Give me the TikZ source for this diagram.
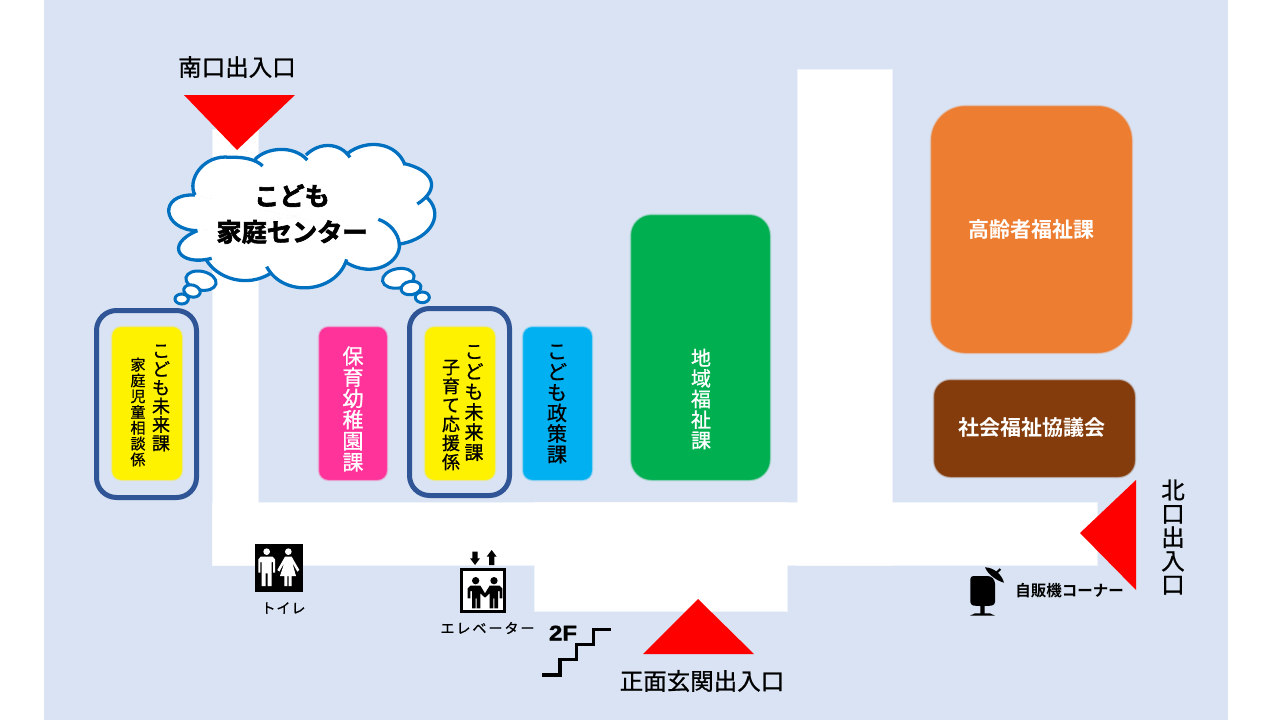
\documentclass[tikz,border=0pt]{standalone}
\usepackage{fontspec}
\newfontfamily\cjk{Noto Sans CJK JP}[FakeBold=0.9]
\newfontfamily\cjkb{Noto Sans CJK JP Bold}
\newfontfamily\cjkh{Noto Sans CJK JP Bold}[FakeBold=2.5]
\newfontfamily\latinb{Liberation Sans Bold}[FakeBold=1.6,FakeStretch=1.15]
\definecolor{floorblue}{HTML}{D9E3F3}
\definecolor{cloudblue}{HTML}{0070C0}
\definecolor{ringblue}{HTML}{2F5597}
\definecolor{pinkbox}{HTML}{FF3399}
\definecolor{cyanbox}{HTML}{00B0F0}
\definecolor{greenbox}{HTML}{00B050}
\definecolor{orangebox}{HTML}{ED7D31}
\definecolor{brownbox}{HTML}{843C0C}
\tikzset{
  lab/.style={inner sep=0pt,outer sep=0pt,align=center,text=black},
  tri/.style={fill=red,draw=none},
  ring/.style={draw=ringblue,line width=5pt,rounded corners=20pt},
  cloudline/.style={draw=cloudblue,line width=3.3pt},
  bubble/.style={draw=cloudblue,line width=3pt,fill=white},
  pic/.style={fill=black,draw=none},
}
% soft-edged rounded box
\newcommand\softbox[6]{% colour, x0,y0,x1,y1, radius
  \foreach \w/\o in {3.6/.16,2.2/.3,1/.5}{
    \draw[#1,fill=#1,opacity=\o,line width=\w pt,rounded corners=#6 pt] (#2,#3) rectangle (#4,#5);}
  \fill[#1,rounded corners=#6 pt] (#2,#3) rectangle (#4,#5);
}
\newcommand\softwhite[4]{%
  \foreach \w/\o in {2.4/.25,1.2/.45}{
    \draw[white,fill=white,opacity=\o,line width=\w pt] (#1,#2) rectangle (#3,#4);}
  \fill[white] (#1,#2) rectangle (#3,#4);
}
\newcommand\cloudlobes{%
  \lobe{(345,195)}{(320,150)}{(370,72)}{(450,82)}
  \lobe{(450,82)}{(495,80)}{(530,90)}{(548,108)}
  \lobe{(525,88)}{(560,52)}{(640,44)}{(682,90)}
  \lobe{(678,75)}{(720,34)}{(780,38)}{(810,82)}
  \lobe{(803,70)}{(860,26)}{(950,36)}{(975,105)}
  \lobe{(970,100)}{(1060,120)}{(1085,175)}{(1012,222)}
  \lobe{(1035,198)}{(1095,245)}{(1060,325)}{(960,342)}
  \lobe{(958,340)}{(965,395)}{(880,450)}{(795,395)}
  \lobe{(800,388)}{(770,490)}{(610,505)}{(560,410)}
  \lobe{(572,430)}{(500,475)}{(410,445)}{(378,388)}
  \lobe{(395,385)}{(300,410)}{(250,345)}{(352,302)}
  \lobe{(352,302)}{(246,300)}{(232,190)}{(345,195)}
}
\begin{document}
\begin{tikzpicture}[x=1pt,y=-1pt]
\useasboundingbox (0,0) rectangle (1280,720);
\fill[white] (0,0) rectangle (1280,720);
\fill[floorblue] (44,0) rectangle (1228,720);
% corridors
\softwhite{213}{130}{258}{565}
\softwhite{213}{503}{1097}{565}
\softwhite{535}{503}{787}{611}
\softwhite{798}{70}{892}{565}
% rooms
\softbox{yellow}{112.5}{327.5}{181.5}{479.5}{9}
\softbox{pinkbox}{319.5}{327.5}{386.5}{479.5}{9}
\softbox{yellow}{425.5}{327.5}{494.5}{479.5}{9}
\softbox{cyanbox}{523.5}{327.5}{591.5}{479.5}{9}
\softbox{greenbox}{631.5}{215.5}{769.5}{479.5}{20}
\softbox{orangebox}{931.5}{106.5}{1131.5}{352.5}{34}
\softbox{brownbox}{934.5}{380.5}{1134.5}{476.5}{16}
% rings
\draw[ring] (96.5,310.5) rectangle (196.5,497.5);
\draw[ring] (409.5,308.5) rectangle (509.5,495.5);
% room labels
\node[lab,font=\cjk\fontsize{18}{18.5}\selectfont] (k1) at (161,398) {こ\\ど\\も\\未\\来\\課};
\node[lab,font=\cjk\fontsize{15}{15.8}\selectfont] (k2) at (138,412) {家\\庭\\児\\童\\相\\談\\係};
\node[lab,text=white,font=\cjk\fontsize{21}{21.2}\selectfont] (h1) at (353,409) {保\\育\\幼\\稚\\園\\課};
\node[lab,font=\cjk\fontsize{19}{20.2}\selectfont] (k3) at (474,403) {こ\\ど\\も\\未\\来\\課};
\node[lab,font=\cjk\fontsize{18}{19}\selectfont] (k4) at (451,415) {子\\育\\て\\応\\援\\係};
\node[lab,font=\cjk\fontsize{20}{20.6}\selectfont] (s1) at (557,404) {こ\\ど\\も\\政\\策\\課};
\node[lab,text=white,font=\cjk\fontsize{20}{20.6}\selectfont] (c1) at (701,399) {地\\域\\福\\祉\\課};
\node[lab,text=white,font=\cjkb\fontsize{21}{24}\selectfont] (r1) at (1031,230) {高齢者福祉課};
\node[lab,text=white,font=\cjkb\fontsize{21}{24}\selectfont] (r2) at (1032,428) {社会福祉協議会};
% entrances
\fill[tri] (184,95) -- (295,95) -- (237,150) -- cycle;
\fill[tri] (698,599) -- (754,654) -- (643,654) -- cycle;
\fill[tri] (1136,480) -- (1136,590) -- (1080,533) -- cycle;
\node[lab,font=\cjk\fontsize{23.5}{26}\selectfont] (e1) at (237,67) {南口出入口};
\node[lab,font=\cjk\fontsize{23.5}{26}\selectfont] (e2) at (702,681) {正面玄関出入口};
\node[lab,font=\cjk\fontsize{23.5}{23.6}\selectfont] (e3) at (1173,537) {北\\口\\出\\入\\口};
% cloud (coordinates are 3x zoom of the region from (80,130))
\begin{scope}[shift={(80,130)},x=.33333pt,y=-.33333pt]
  \newcommand\lobe[4]{\fill[white] (640,260) -- #1 .. controls #2 and #3 .. #4 -- cycle;}
  \cloudlobes
  \renewcommand\lobe[4]{\draw[cloudline] #1 .. controls #2 and #3 .. #4;}
  \cloudlobes
  \draw[cloudline] (895,268) .. controls (930,280) and (955,310) .. (958,342);
  \draw[bubble,rotate around={-12:(363,452)}] (363,452) ellipse [x radius=46,y radius=28];
  \draw[bubble,rotate around={-15:(336,483)}] (336,483) ellipse [x radius=25,y radius=18];
  \draw[bubble] (305,507) ellipse [x radius=20,y radius=15];
  \draw[bubble,rotate around={10:(955,445)}] (955,445) ellipse [x radius=48,y radius=29];
  \draw[bubble,rotate around={10:(993,474)}] (993,474) ellipse [x radius=30,y radius=20];
  \draw[bubble] (1027,502) ellipse [x radius=21,y radius=16];
\end{scope}
\node[lab,font=\cjkh\fontsize{25.2}{36}\selectfont] (cl) at (292,214) {こども\\家庭センター};
% toilet sign
\begin{scope}[shift={(250,540)},x=.33333pt,y=-.33333pt]
  \fill[pic] (15,12) rectangle (159,156);
  \fill[white] (50,35) circle [x radius=10,y radius=10] (115,35) circle [x radius=10,y radius=10];
  \fill[white] (25,98) -- (25,58) -- (32,50) -- (68,50) -- (75,58) -- (75,98) -- (69,98) -- (69,66) -- (65,66) -- (65,138) -- (53,138) -- (53,100) -- (47,100) -- (47,138) -- (35,138) -- (35,66) -- (31,66) -- (31,98) -- cycle;
  \fill[white] (105,50) -- (125,50) -- (148,90) -- (142,95) -- (127,68) -- (138,108) -- (125,108) -- (125,138) -- (116,138) -- (116,108) -- (112,108) -- (112,138) -- (103,138) -- (103,108) -- (90,108) -- (103,68) -- (88,95) -- (82,90) -- cycle;
\end{scope}
% elevator sign
\begin{scope}[shift={(455,545)},x=.33333pt,y=-.33333pt]
  \fill[pic] (15,69) rectangle (153,204);
  \fill[white] (25,79) rectangle (143,194);
  \fill[black] (62,107) circle [x radius=11,y radius=11] (117,107) circle [x radius=11,y radius=11];
  \fill[pic] (38,160) -- (38,130) -- (46,122) -- (76,122) -- (90,145) -- (104,122) -- (134,122) -- (142,130) -- (142,160) -- (134,160) -- (134,138) -- (129,138) -- (129,190) -- (118,190) -- (118,160) -- (115,160) -- (115,190) -- (104,190) -- (104,145) -- (90,158) -- (76,145) -- (76,190) -- (65,190) -- (65,160) -- (62,160) -- (62,190) -- (51,190) -- (51,138) -- (46,138) -- (46,160) -- cycle;
  \fill[pic] (52,20) rectangle (68,40) (45,40) -- (75,40) -- (60,60) -- cycle;
  \fill[pic] (102,35) rectangle (118,60) (95,35) -- (125,35) -- (110,15) -- cycle;
\end{scope}
% stairs
\begin{scope}[shift={(240,530)},x=.33333pt,y=-.33333pt]
  \draw[black,line width=3.3pt] (905,435) -- (960,435) -- (960,388) -- (1010,388) -- (1010,343) -- (1060,343) -- (1060,298) -- (1112,298);
\end{scope}
\node[lab,font=\cjk\fontsize{14}{16}\selectfont] (t1) at (283.5,608) {ト\hspace{1pt}イ\hspace{1pt}レ};
\node[lab,font=\cjk\fontsize{14}{16}\selectfont] (t2) at (487.5,628) {エ\hspace{2pt}レ\hspace{2pt}ベ\hspace{2pt}ー\hspace{2pt}タ\hspace{2pt}ー};
\node[lab,font=\latinb\fontsize{21}{24}\selectfont] (t3) at (563,633) {2F};
% vending machine
\begin{scope}[shift={(960,560)},x=.33333pt,y=-.33333pt]
  \fill[pic,rounded corners=3pt] (31,48) -- (92,48) -- (105,62) -- (105,135) -- (85,138) -- (50,138) -- (31,135) -- cycle;
  \fill[pic] (61,135) rectangle (74,160) (30,167) -- (45,160) -- (90,160) -- (105,167) -- cycle;
  \fill[pic] (75,22) .. controls (100,22) and (125,42) .. (132,68) .. controls (110,62) and (85,45) .. (75,22) -- cycle;
  \draw[black,line width=2pt] (104,44) -- (121,27);
\end{scope}
\node[lab,font=\cjkb\fontsize{15.5}{18}\selectfont] (t4) at (1069.5,591) {自販機コーナー};
\end{tikzpicture}
\end{document}
